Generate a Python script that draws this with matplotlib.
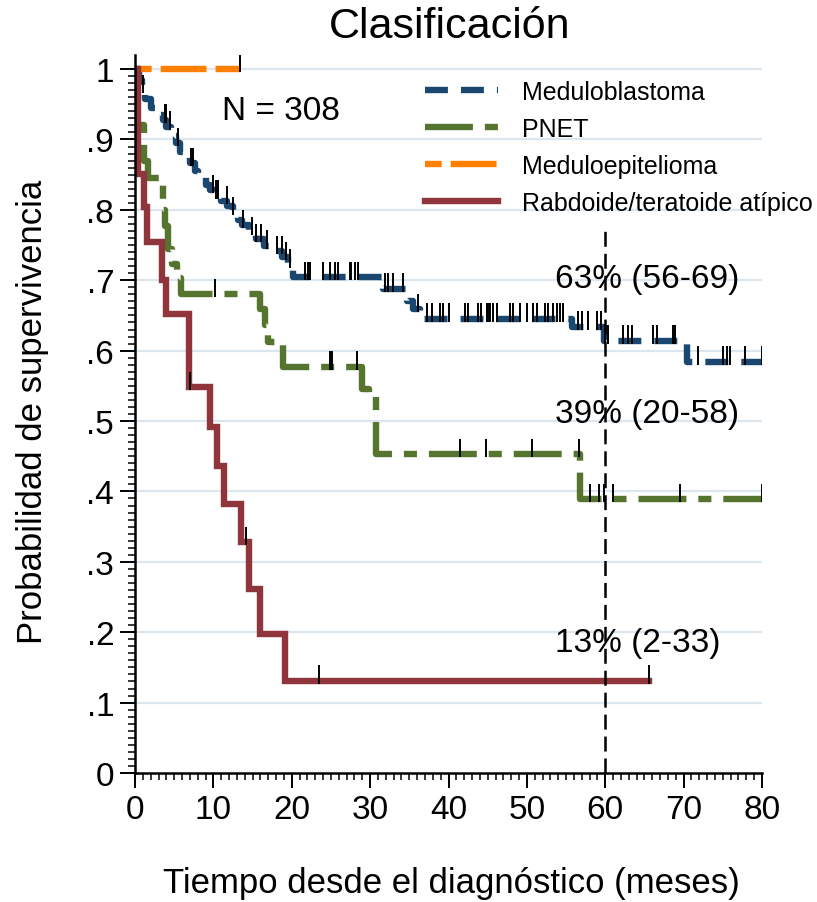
import numpy as np
import matplotlib
matplotlib.use("Agg")
import matplotlib.pyplot as plt
from matplotlib.ticker import MultipleLocator, FixedLocator

plt.rcParams['font.family'] = ['Liberation Sans', 'DejaVu Sans']
plt.rcParams['lines.scale_dashes'] = False

# Kaplan-Meier steps (months, survival)
medulo_t = [0, 0.5, 0.9, 1.3, 2.0, 2.8, 3.6, 4.0, 4.6, 5.2, 5.7, 6.5, 7.0, 7.6, 8.0, 9.0, 9.6,
            10.2, 11.0, 11.8, 12.5, 13.2, 13.6, 14.5, 15.4, 16.4, 17.5, 18.8, 19.5, 20.2, 31.7,
            34.7, 35.5, 36.4, 55.7, 59.9, 70.4, 80]
medulo_s = [1, .985, .97, .957, .945, .935, .928, .918, .905, .895, .882, .875, .866, .855, .846,
            .835, .828, .82, .812, .805, .796, .785, .778, .768, .758, .749, .741, .733, .722,
            .704, .688, .67, .659, .645, .634, .614, .584, .584]
medulo_cens = [1.06, 3.8, 3.95, 4.5, 5.5, 7.1, 7.4, 10.0, 10.3, 10.6, 11.7, 12.5, 13.8, 14.9,
               15.5, 16.1, 16.8, 18.1, 18.7, 19.3, 19.8, 21.7, 22.1, 22.3, 24.0, 24.9, 25.5,
               25.9, 27.4, 27.6, 28.1, 28.4, 31.9, 32.3, 32.9, 34.2, 36.1, 37.3, 37.9, 38.9,
               39.3, 40.0, 42.1, 42.5, 43.8, 44.2, 44.9, 45.0, 45.3, 45.7, 46.2, 47.8, 48.2,
               49.1, 50.0, 50.8, 51.3, 52.3, 52.7, 53.3, 53.8, 54.2, 54.6, 56.5, 57.0, 57.8,
               59.0, 59.5, 60.0, 60.4, 62.3, 62.9, 63.4, 66.1, 66.6, 68.6, 68.9, 71.8, 75.0,
               75.5, 75.9, 77.8, 80.0]

pnet_t = [0, 0.3, 1.2, 1.7, 3.6, 3.8, 4.2, 4.7, 5.3, 5.9, 16.0, 16.6, 17.0, 18.9, 28.9, 29.8,
          30.8, 56.8, 80]
pnet_s = [1, .92, .87, .845, .80, .777, .745, .723, .703, .68, .659, .637, .612, .577, .545,
          .536, .453, .389, .389]
pnet_cens = [10.2, 24.9, 25.1, 28.3, 41.5, 44.8, 50.6, 56.7, 58.1, 59.2, 59.9, 61.0, 69.5, 80.0]

epit_t = [0, 13.4]
epit_s = [1, 1]
epit_cens = [13.4]

rabdo_t = [0, 0.4, 1.1, 1.5, 3.4, 4.0, 6.9, 9.6, 10.5, 11.35, 13.5, 14.6, 16.0, 19.1, 65.6]
rabdo_s = [1, .851, .804, .754, .70, .652, .548, .491, .436, .382, .328, .261, .197, .131, .131]
rabdo_cens = [7.0, 14.2, 23.5, 65.6]

labels = ["Meduloblastoma", "PNET", "Meduloepitelioma", "Rabdoide/teratoide atípico"]
colors = ["#1a476f", "#55752f", "#ff8000", "#90353b"]
dashes = [(0, (16.5, 9.4)), (0, (34.5, 8.6, 9.4, 8.6)), (21, (33, 6.5)), "solid"]

annot_text = ["63% (56-69)", "39% (20-58)", "13% (2-33)"]
annot_y = [0.702, 0.511, 0.186]

fig = plt.figure(figsize=(8.17, 9.03), dpi=100)
ax = fig.add_axes([135 / 817, 1 - 774 / 903, 627 / 817, 718 / 903])

ax.set_xlim(0, 80)
ax.set_ylim(0, 1.02)
for g in np.arange(0.1, 1.01, 0.1):
    ax.axhline(g, color="#dce6ee", lw=1.6, zorder=0)

curves = [(medulo_t, medulo_s, medulo_cens), (pnet_t, pnet_s, pnet_cens),
          (epit_t, epit_s, epit_cens), (rabdo_t, rabdo_s, rabdo_cens)]
handles = []
for (t, s, cens), lab, col, ls in zip(curves, labels, colors, dashes):
    h, = ax.step(t, s, where="post", color=col, lw=4.6, linestyle=ls, label=lab,
                 solid_joinstyle="miter", zorder=2)
    handles.append(h)
    t_arr = np.array(t)
    s_arr = np.array(s)
    idx = np.clip(np.searchsorted(t_arr, cens, side="right") - 1, 0, len(s_arr) - 1)
    lev = s_arr[idx]
    ax.vlines(cens, lev - 0.004, lev + 0.022, color="black", lw=1.4, zorder=3)

ax.plot([60, 60], [0, 0.776], color="black", lw=1.8, linestyle=(0, (10.8, 5)), zorder=4)

for txt, yy in zip(annot_text, annot_y):
    ax.text(53.6, yy, txt, fontsize=24, ha="left", va="center", zorder=5)
ax.text(11.1, 0.941, "N = 308", fontsize=24, ha="left", va="center")

for side in ["top", "right"]:
    ax.spines[side].set_visible(False)
for side in ["left", "bottom"]:
    ax.spines[side].set_linewidth(1.8)

ax.xaxis.set_major_locator(MultipleLocator(10))
ax.xaxis.set_minor_locator(MultipleLocator(1))
yt = [0, .1, .2, .3, .4, .5, .6, .7, .8, .9, 1]
ax.yaxis.set_major_locator(FixedLocator(yt))
ax.set_yticklabels(["0", ".1", ".2", ".3", ".4", ".5", ".6", ".7", ".8", ".9", "1"])
ax.yaxis.set_minor_locator(FixedLocator(np.arange(0, 1.005, 0.01)))
ax.tick_params(which="major", length=11, width=1.4, labelsize=24, pad=4)
ax.tick_params(which="minor", length=5, width=1.1)

fig.text(450 / 817, 1 - 27 / 903, "Clasificación", fontsize=31, ha="center", va="center")
fig.text(33 / 817, 1 - 412 / 903, "Probabilidad de supervivencia", fontsize=25,
         rotation=90, ha="center", va="center")
fig.text(451 / 817, 1 - 884 / 903, "Tiempo desde el diagnóstico (meses)", fontsize=25,
         ha="center", va="center")

fig.legend(handles=handles, loc="upper left", bbox_to_anchor=(425 / 817, 1 - 81 / 903),
           frameon=False, fontsize=18, handlelength=2.9, handletextpad=1.0,
           labelspacing=0.52, borderpad=0, borderaxespad=0)

fig.savefig("out.png", dpi=100)
